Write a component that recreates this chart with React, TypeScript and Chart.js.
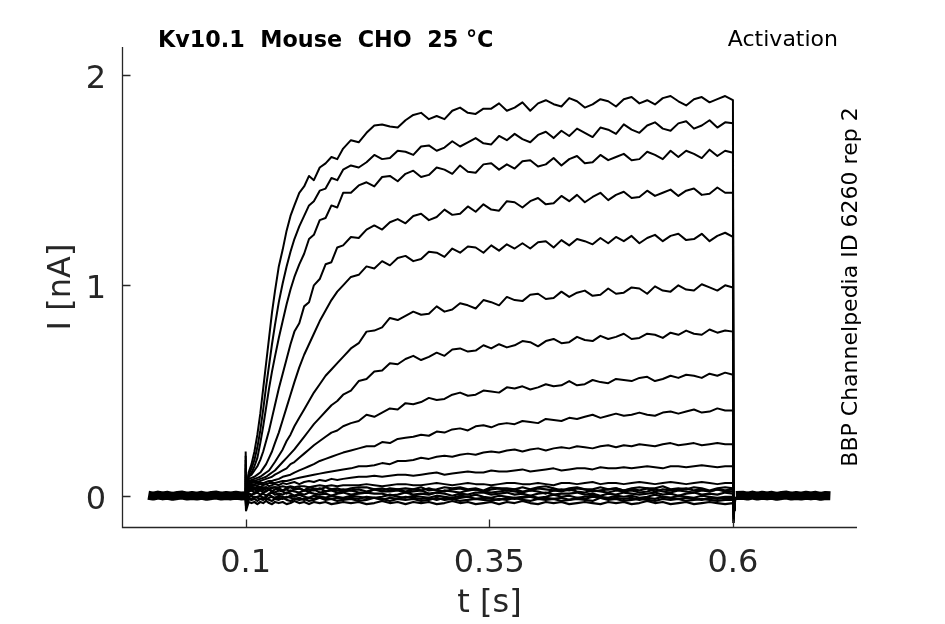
import React, { useEffect, useRef } from 'react';
import { Chart, registerables } from 'chart.js';

Chart.register(...registerables);

// axis ticks
const xTicks = [0.1, 0.35, 0.6];
const xTickLabels = ['0.1', '0.35', '0.6'];
const yTicks = [0, 1, 2];
const yTickLabels = ['0', '1', '2'];

// holding segments before / after the step (all sweeps overlap there)
const preTimes = [0, 0.005, 0.01, 0.015, 0.02, 0.025, 0.03, 0.035, 0.04, 0.045, 0.05, 0.055, 0.06, 0.065, 0.07, 0.075, 0.08, 0.085, 0.09, 0.095, 0.0998];
const preValues = [0.002, -0.002, 0.003, -0.001, 0.002, -0.003, 0.001, 0.003, -0.002, 0.001, -0.002, 0.002, -0.003, 0.001, 0.003, -0.002, 0.001, -0.001, 0.002, -0.001, 0.0];
const recoveryTimes = [0.6006, 0.6012, 0.602, 0.603];
const recoveryValues = [-0.13, -0.07, -0.03, -0.005];
const tailTimes = [0.603, 0.61, 0.615, 0.62, 0.625, 0.63, 0.635, 0.64, 0.645, 0.65, 0.655, 0.66, 0.665, 0.67, 0.675, 0.68, 0.685, 0.69, 0.695, 0.7];
const tailValues = [0.001, 0.002, -0.002, 0.003, -0.002, 0.002, -0.001, 0.002, -0.003, 0.001, 0.003, -0.002, 0.001, -0.002, 0.002, -0.001, 0.002, -0.003, 0.001, 0.0];

// sample times during the step
const pulseTimes = [
  0.1, 0.1004, 0.103, 0.106, 0.109, 0.112, 0.115, 0.118, 0.121, 0.124, 0.127, 0.13, 0.134,
  0.138, 0.142, 0.146, 0.15, 0.155, 0.16, 0.165, 0.17, 0.176, 0.182, 0.188, 0.194, 0.2,
  0.208, 0.216, 0.224, 0.232, 0.24, 0.248, 0.256,
  0.264, 0.272, 0.28, 0.288, 0.296, 0.304, 0.312,
  0.32, 0.328, 0.336, 0.344, 0.352, 0.36, 0.368,
  0.376, 0.384, 0.392, 0.4, 0.408, 0.416, 0.424,
  0.432, 0.44, 0.448, 0.456, 0.464, 0.472, 0.48,
  0.488, 0.496, 0.504, 0.512, 0.52, 0.528, 0.536,
  0.544, 0.552, 0.56, 0.568, 0.576, 0.584, 0.592,
  0.6, 0.6006,
];

// current sweeps in nA, largest first
const sweep1 = [
  0.21, -0.06, 0.11, 0.15, 0.21, 0.29, 0.39, 0.51, 0.63, 0.75, 0.87, 0.97, 1.09,
  1.17, 1.26, 1.33, 1.38, 1.44, 1.47, 1.52, 1.5, 1.56, 1.58, 1.61, 1.6, 1.65,
  1.69, 1.68, 1.725, 1.76, 1.765, 1.755, 1.75,
  1.785, 1.81, 1.82, 1.79, 1.805, 1.79, 1.83,
  1.845, 1.82, 1.815, 1.84, 1.84, 1.865, 1.83,
  1.845, 1.87, 1.83, 1.865, 1.88, 1.861, 1.85,
  1.89, 1.875, 1.845, 1.86, 1.885, 1.875, 1.85,
  1.885, 1.895, 1.865, 1.88, 1.86, 1.89, 1.9,
  1.875, 1.855, 1.885, 1.895, 1.87, 1.885, 1.9,
  1.88, -0.13,
];
const sweep2 = [
  0.19, -0.05, 0.1, 0.13, 0.17, 0.23, 0.31, 0.41, 0.52, 0.62, 0.72, 0.81, 0.92,
  1.01, 1.09, 1.16, 1.22, 1.28, 1.33, 1.38, 1.4, 1.45, 1.46, 1.51, 1.5, 1.55,
  1.57, 1.56, 1.585, 1.62, 1.6, 1.605, 1.64,
  1.635, 1.62, 1.66, 1.665, 1.64, 1.655, 1.685,
  1.66, 1.68, 1.7, 1.675, 1.67, 1.71, 1.69,
  1.72, 1.695, 1.68, 1.715, 1.73, 1.7, 1.735,
  1.71, 1.745, 1.725, 1.705, 1.75, 1.74, 1.72,
  1.765, 1.74, 1.725, 1.76, 1.775, 1.745, 1.735,
  1.77, 1.78, 1.745, 1.76, 1.785, 1.75, 1.775,
  1.77, -0.12,
];
const sweep3 = [
  0.17, -0.05, 0.095, 0.11, 0.14, 0.18, 0.25, 0.33, 0.42, 0.51, 0.59, 0.66, 0.75,
  0.83, 0.91, 0.98, 1.04, 1.1, 1.15, 1.22, 1.24, 1.31, 1.32, 1.38, 1.37, 1.44,
  1.44, 1.475, 1.49, 1.47, 1.515, 1.52, 1.495,
  1.53, 1.545, 1.515, 1.525, 1.56, 1.55, 1.53,
  1.57, 1.54, 1.535, 1.575, 1.58, 1.55, 1.575,
  1.555, 1.59, 1.595, 1.565, 1.575, 1.605, 1.57,
  1.6, 1.615, 1.58, 1.585, 1.62, 1.595, 1.61,
  1.625, 1.595, 1.6, 1.635, 1.62, 1.6, 1.64,
  1.61, 1.64, 1.625, 1.605, 1.645, 1.615, 1.64,
  1.63, -0.11,
];
const sweep4 = [
  0.15, -0.04, 0.09, 0.1, 0.12, 0.14, 0.17, 0.21, 0.26, 0.31, 0.37, 0.43, 0.51,
  0.58, 0.65, 0.72, 0.78, 0.82, 0.9, 0.92, 1.0, 1.03, 1.1, 1.11, 1.18, 1.19,
  1.23, 1.225, 1.265, 1.285, 1.265, 1.3, 1.315,
  1.295, 1.33, 1.34, 1.31, 1.325, 1.36, 1.335,
  1.34, 1.375, 1.35, 1.385, 1.36, 1.355, 1.4,
  1.395, 1.37, 1.4, 1.415, 1.385, 1.39, 1.425,
  1.4, 1.43, 1.395, 1.42, 1.44, 1.405, 1.43,
  1.445, 1.415, 1.42, 1.45, 1.425, 1.44, 1.455,
  1.425, 1.45, 1.46, 1.43, 1.435, 1.465, 1.44,
  1.44, -0.1,
];
const sweep5 = [
  0.13, -0.04, 0.08, 0.085, 0.09, 0.1, 0.11, 0.13, 0.15, 0.18, 0.21, 0.25, 0.3,
  0.36, 0.42, 0.48, 0.54, 0.61, 0.67, 0.72, 0.77, 0.83, 0.88, 0.93, 0.97, 1.0,
  1.04, 1.05, 1.09, 1.08, 1.115, 1.095, 1.13,
  1.14, 1.115, 1.125, 1.16, 1.155, 1.135, 1.175,
  1.155, 1.185, 1.18, 1.155, 1.19, 1.165, 1.195,
  1.175, 1.2, 1.175, 1.205, 1.21, 1.18, 1.215,
  1.19, 1.22, 1.21, 1.195, 1.225, 1.2, 1.23,
  1.21, 1.235, 1.2, 1.225, 1.24, 1.21, 1.235,
  1.245, 1.215, 1.22, 1.245, 1.21, 1.235, 1.25,
  1.23, -0.09,
];
const sweep6 = [
  0.12, -0.04, 0.07, 0.075, 0.08, 0.085, 0.09, 0.1, 0.11, 0.12, 0.14, 0.16, 0.19,
  0.22, 0.26, 0.29, 0.33, 0.37, 0.41, 0.45, 0.49, 0.53, 0.57, 0.6, 0.63, 0.66,
  0.7, 0.725, 0.78, 0.785, 0.8, 0.845, 0.835,
  0.855, 0.875, 0.86, 0.865, 0.9, 0.875, 0.885,
  0.915, 0.905, 0.89, 0.93, 0.92, 0.905, 0.945,
  0.93, 0.925, 0.955, 0.96, 0.935, 0.94, 0.97,
  0.945, 0.965, 0.975, 0.95, 0.955, 0.985, 0.96,
  0.965, 0.99, 0.985, 0.96, 0.995, 0.975, 0.97,
  1.0, 0.98, 0.975, 1.005, 0.99, 0.975, 1.0,
  0.99, -0.08,
];
const sweep7 = [
  0.1, -0.04, 0.065, 0.07, 0.07, 0.075, 0.08, 0.085, 0.09, 0.1, 0.11, 0.12, 0.14,
  0.16, 0.18, 0.2, 0.22, 0.25, 0.28, 0.31, 0.34, 0.37, 0.4, 0.43, 0.45, 0.48,
  0.5, 0.545, 0.555, 0.59, 0.595, 0.63, 0.625,
  0.65, 0.665, 0.645, 0.66, 0.68, 0.665, 0.695,
  0.7, 0.685, 0.69, 0.715, 0.7, 0.72, 0.705,
  0.715, 0.735, 0.73, 0.71, 0.735, 0.745, 0.725,
  0.73, 0.755, 0.74, 0.735, 0.76, 0.745, 0.755,
  0.77, 0.745, 0.75, 0.77, 0.765, 0.75, 0.775,
  0.765, 0.785, 0.77, 0.765, 0.79, 0.775, 0.785,
  0.78, -0.07,
];
const sweep8 = [
  0.09, -0.03, 0.06, 0.06, 0.065, 0.065, 0.07, 0.075, 0.08, 0.085, 0.09, 0.1, 0.11,
  0.12, 0.13, 0.15, 0.16, 0.18, 0.2, 0.22, 0.24, 0.26, 0.28, 0.3, 0.31, 0.33,
  0.345, 0.355, 0.385, 0.375, 0.395, 0.415, 0.41,
  0.44, 0.435, 0.445, 0.465, 0.455, 0.46, 0.48,
  0.49, 0.475, 0.48, 0.5, 0.495, 0.49, 0.515,
  0.51, 0.52, 0.505, 0.515, 0.53, 0.52, 0.525,
  0.545, 0.525, 0.53, 0.55, 0.54, 0.535, 0.555,
  0.55, 0.545, 0.56, 0.565, 0.545, 0.555, 0.57,
  0.56, 0.575, 0.57, 0.56, 0.58, 0.57, 0.585,
  0.575, -0.06,
];
const sweep9 = [
  0.08, -0.03, 0.055, 0.055, 0.055, 0.06, 0.06, 0.06, 0.065, 0.07, 0.07, 0.075, 0.08,
  0.09, 0.095, 0.1, 0.11, 0.12, 0.13, 0.14, 0.15, 0.165, 0.175, 0.185, 0.195, 0.205,
  0.215, 0.225, 0.235, 0.235, 0.255, 0.25, 0.27,
  0.275, 0.28, 0.29, 0.285, 0.305, 0.3, 0.315,
  0.32, 0.31, 0.33, 0.335, 0.325, 0.34, 0.345,
  0.34, 0.355, 0.35, 0.345, 0.365, 0.36, 0.355,
  0.37, 0.365, 0.375, 0.385, 0.37, 0.38, 0.39,
  0.38, 0.385, 0.395, 0.385, 0.38, 0.395, 0.4,
  0.39, 0.4, 0.41, 0.395, 0.4, 0.415, 0.405,
  0.405, -0.06,
];
const sweep10 = [
  0.07, -0.03, 0.05, 0.05, 0.05, 0.05, 0.055, 0.055, 0.055, 0.06, 0.06, 0.06, 0.065,
  0.07, 0.07, 0.075, 0.08, 0.085, 0.09, 0.095, 0.1, 0.105, 0.11, 0.115, 0.12, 0.125,
  0.13, 0.14, 0.14, 0.145, 0.155, 0.15, 0.165,
  0.165, 0.17, 0.18, 0.175, 0.185, 0.19, 0.185,
  0.195, 0.2, 0.195, 0.205, 0.21, 0.205, 0.215,
  0.22, 0.21, 0.22, 0.225, 0.215, 0.225, 0.23,
  0.225, 0.235, 0.23, 0.225, 0.235, 0.24, 0.23,
  0.24, 0.235, 0.245, 0.24, 0.235, 0.245, 0.25,
  0.24, 0.245, 0.25, 0.24, 0.245, 0.25, 0.245,
  0.245, -0.05,
];
const sweep11 = [
  0.06, -0.03, 0.045, 0.04, 0.05, 0.045, 0.04, 0.05, 0.055, 0.045, 0.05, 0.055, 0.05,
  0.06, 0.055, 0.06, 0.065, 0.055, 0.065, 0.07, 0.065, 0.075, 0.07, 0.08, 0.075, 0.08,
  0.085, 0.09, 0.09, 0.095, 0.09, 0.095, 0.1,
  0.1, 0.095, 0.1, 0.105, 0.11, 0.1, 0.105,
  0.11, 0.115, 0.11, 0.11, 0.12, 0.115, 0.115,
  0.12, 0.125, 0.115, 0.12, 0.125, 0.13, 0.12,
  0.125, 0.13, 0.13, 0.125, 0.135, 0.13, 0.13,
  0.135, 0.13, 0.135, 0.14, 0.135, 0.13, 0.14,
  0.14, 0.135, 0.14, 0.145, 0.14, 0.135, 0.14,
  0.14, -0.05,
];
const sweep12 = [
  0.05, -0.03, 0.04, 0.04, 0.035, 0.04, 0.035, 0.04, 0.04, 0.035, 0.04, 0.04, 0.04,
  0.045, 0.04, 0.045, 0.04, 0.045, 0.045, 0.04, 0.045, 0.05, 0.045, 0.05, 0.045, 0.05,
  0.05, 0.05, 0.055, 0.05, 0.045, 0.05, 0.055,
  0.055, 0.05, 0.05, 0.055, 0.06, 0.055, 0.05,
  0.055, 0.06, 0.055, 0.055, 0.05, 0.055, 0.06,
  0.06, 0.055, 0.055, 0.06, 0.055, 0.05, 0.06,
  0.06, 0.055, 0.06, 0.065, 0.055, 0.06, 0.06,
  0.055, 0.06, 0.065, 0.06, 0.055, 0.06, 0.065,
  0.06, 0.055, 0.06, 0.065, 0.06, 0.055, 0.06,
  0.06, -0.04,
];
// sub-threshold sweeps: the dense band around zero
const sweep13 = [
  0.04, -0.02, 0.035, 0.03, 0.04, 0.03, 0.035, 0.025, 0.04, 0.03, 0.035, 0.04, 0.03,
  0.025, 0.035, 0.04, 0.03, 0.035, 0.025, 0.04, 0.035, 0.03, 0.04, 0.03, 0.035, 0.025,
  0.035, 0.04, 0.04, 0.03, 0.025, 0.035, 0.03,
  0.035, 0.03, 0.04, 0.025, 0.03, 0.04, 0.035,
  0.04, 0.03, 0.035, 0.025, 0.04, 0.035, 0.035,
  0.03, 0.04, 0.03, 0.04, 0.045, 0.035, 0.025,
  0.035, 0.04, 0.03, 0.03, 0.04, 0.03, 0.035,
  0.025, 0.035, 0.04, 0.035, 0.035, 0.045, 0.03,
  0.035, 0.03, 0.04, 0.035, 0.025, 0.035, 0.04,
  0.035, -0.04,
];
const sweep14 = [
  0.035, -0.03, 0.03, 0.025, 0.03, 0.02, 0.03, 0.035, 0.025, 0.03, 0.02, 0.03, 0.035,
  0.025, 0.03, 0.02, 0.03, 0.035, 0.025, 0.03, 0.025, 0.035, 0.02, 0.03, 0.025, 0.03,
  0.025, 0.03, 0.02, 0.03, 0.035, 0.025, 0.03,
  0.02, 0.03, 0.025, 0.035, 0.025, 0.02, 0.03,
  0.035, 0.025, 0.03, 0.02, 0.03, 0.035, 0.025,
  0.03, 0.02, 0.025, 0.035, 0.03, 0.025, 0.03,
  0.025, 0.035, 0.03, 0.02, 0.025, 0.03, 0.035,
  0.025, 0.03, 0.025, 0.035, 0.02, 0.03, 0.025,
  0.03, 0.035, 0.025, 0.03, 0.02, 0.03, 0.025,
  0.03, -0.04,
];
const sweep15 = [
  0.03, -0.02, 0.02, 0.025, 0.015, 0.02, 0.025, 0.015, 0.02, 0.03, 0.02, 0.015, 0.025,
  0.02, 0.01, 0.025, 0.02, 0.015, 0.025, 0.02, 0.03, 0.015, 0.02, 0.025, 0.015, 0.02,
  0.025, 0.015, 0.015, 0.03, 0.02, 0.02, 0.025,
  0.015, 0.02, 0.025, 0.01, 0.015, 0.025, 0.02,
  0.015, 0.025, 0.03, 0.02, 0.015, 0.02, 0.025,
  0.02, 0.015, 0.025, 0.02, 0.01, 0.025, 0.02,
  0.03, 0.02, 0.015, 0.025, 0.02, 0.015, 0.025,
  0.02, 0.025, 0.015, 0.02, 0.03, 0.02, 0.015,
  0.025, 0.02, 0.015, 0.025, 0.02, 0.03, 0.02,
  0.02, -0.03,
];
const sweep16 = [
  0.02, -0.03, 0.01, 0.005, 0.01, 0.015, 0.005, 0.01, 0.0, 0.01, 0.015, 0.005, 0.01,
  0.005, 0.015, 0.01, 0.0, 0.01, 0.005, 0.015, 0.01, 0.005, 0.01, 0.0, 0.01, 0.015,
  0.005, 0.01, 0.015, 0.01, 0.01, 0.0, 0.005,
  0.015, 0.005, 0.01, 0.005, 0.015, 0.01, 0.0,
  0.01, 0.005, 0.015, 0.015, 0.005, 0.01, 0.015,
  0.005, 0.01, 0.0, 0.01, 0.015, 0.005, 0.01,
  0.01, 0.015, 0.005, 0.01, 0.0, 0.01, 0.005,
  0.015, 0.01, 0.005, 0.01, 0.015, 0.005, 0.01,
  0.0, 0.01, 0.015, 0.005, 0.01, 0.005, 0.015,
  0.01, -0.03,
];
const sweep17 = [
  0.01, -0.04, -0.005, 0.0, -0.01, -0.005, 0.0, -0.01, -0.005, 0.005, -0.005, -0.01, 0.0,
  -0.005, -0.01, 0.0, -0.005, 0.005, -0.005, -0.01, 0.0, -0.005, -0.01, 0.0, -0.005, -0.01,
  0.0, -0.005, -0.01, -0.01, -0.005, 0.005, -0.005,
  -0.01, 0.0, -0.005, -0.01, 0.0, -0.005, -0.01,
  0.0, -0.005, 0.005, -0.005, -0.01, 0.0, -0.005,
  -0.01, -0.005, 0.0, -0.01, -0.005, 0.005, -0.005,
  0.0, -0.01, -0.005, 0.0, -0.005, -0.01, 0.0,
  -0.005, 0.0, -0.01, -0.005, 0.005, -0.005, -0.01,
  0.0, -0.005, -0.01, 0.0, -0.005, -0.01, -0.005,
  -0.005, -0.04,
];
const sweep18 = [
  0.005, -0.05, -0.01, -0.015, -0.005, -0.01, -0.015, -0.01, -0.02, -0.01, -0.005, -0.015, -0.01,
  -0.015, -0.005, -0.01, -0.015, -0.01, -0.02, -0.01, -0.015, -0.005, -0.01, -0.015, -0.01, -0.015,
  -0.01, -0.015, -0.005, -0.01, -0.02, -0.01, -0.015,
  -0.005, -0.01, -0.015, -0.01, -0.02, -0.01, -0.015,
  -0.01, -0.005, -0.015, -0.01, -0.015, -0.02, -0.01,
  -0.015, -0.01, -0.005, -0.015, -0.01, -0.015, -0.01,
  -0.02, -0.01, -0.015, -0.005, -0.01, -0.015, -0.01,
  -0.015, -0.01, -0.02, -0.01, -0.015, -0.005, -0.01,
  -0.015, -0.01, -0.015, -0.02, -0.01, -0.015, -0.01,
  -0.01, -0.045,
];
const sweep19 = [
  0.0, -0.05, -0.015, -0.02, -0.015, -0.025, -0.015, -0.02, -0.01, -0.02, -0.025, -0.015, -0.02,
  -0.01, -0.02, -0.025, -0.015, -0.02, -0.015, -0.025, -0.02, -0.01, -0.02, -0.015, -0.025, -0.02,
  -0.015, -0.025, -0.02, -0.01, -0.015, -0.025, -0.015,
  -0.02, -0.015, -0.025, -0.02, -0.01, -0.02, -0.015,
  -0.025, -0.02, -0.015, -0.02, -0.025, -0.015, -0.02,
  -0.01, -0.02, -0.025, -0.015, -0.02, -0.015, -0.025,
  -0.02, -0.015, -0.02, -0.025, -0.01, -0.02, -0.015,
  -0.025, -0.02, -0.015, -0.02, -0.025, -0.015, -0.02,
  -0.015, -0.025, -0.02, -0.015, -0.02, -0.025, -0.02,
  -0.02, -0.05,
];
const sweep20 = [
  -0.01, -0.07, -0.03, -0.035, -0.03, -0.04, -0.03, -0.035, -0.025, -0.035, -0.04, -0.03, -0.035,
  -0.03, -0.04, -0.035, -0.025, -0.035, -0.03, -0.04, -0.03, -0.035, -0.03, -0.04, -0.035, -0.03,
  -0.035, -0.03, -0.04, -0.035, -0.025, -0.035, -0.03,
  -0.04, -0.03, -0.035, -0.03, -0.04, -0.035, -0.025,
  -0.035, -0.03, -0.04, -0.035, -0.03, -0.04, -0.03,
  -0.035, -0.025, -0.035, -0.04, -0.03, -0.035, -0.03,
  -0.04, -0.035, -0.03, -0.035, -0.04, -0.03, -0.035,
  -0.03, -0.04, -0.035, -0.025, -0.035, -0.03, -0.04,
  -0.035, -0.03, -0.04, -0.035, -0.03, -0.035, -0.04,
  -0.035, -0.05,
];

const sweeps = [
  sweep1, sweep2, sweep3, sweep4, sweep5, sweep6, sweep7, sweep8, sweep9, sweep10,
  sweep11, sweep12, sweep13, sweep14, sweep15, sweep16, sweep17, sweep18, sweep19, sweep20,
];

const FONT = "'DejaVu Sans'";
const AXIS_COLOR = '#262626';

const zip = (xs: number[], ys: number[]) => xs.map((x, i) => ({ x, y: ys[i] }));

const decorPlugin = {
  id: 'decor',
  afterDraw(chart: any) {
    const { ctx, chartArea, scales } = chart;
    const xs = scales.x;
    const ys = scales.y;
    const left = chartArea.left + 0.5;
    const bottom = chartArea.bottom + 0.5;

    ctx.save();
    ctx.strokeStyle = AXIS_COLOR;
    ctx.lineWidth = 1.3;
    ctx.beginPath();
    ctx.moveTo(left, chartArea.top);
    ctx.lineTo(left, bottom);
    ctx.lineTo(chartArea.right, bottom);
    xTicks.forEach((v) => {
      const px = Math.round(xs.getPixelForValue(v)) + 0.5;
      ctx.moveTo(px, bottom);
      ctx.lineTo(px, bottom - 8);
    });
    yTicks.forEach((v) => {
      const py = Math.round(ys.getPixelForValue(v)) + 0.5;
      ctx.moveTo(left, py);
      ctx.lineTo(left + 8, py);
    });
    ctx.stroke();

    // tick labels
    ctx.fillStyle = AXIS_COLOR;
    ctx.font = `32px ${FONT}`;
    ctx.textBaseline = 'alphabetic';
    ctx.textAlign = 'center';
    xTicks.forEach((v, i) => {
      ctx.fillText(xTickLabels[i], xs.getPixelForValue(v), 572);
    });
    ctx.textAlign = 'right';
    yTicks.forEach((v, i) => {
      ctx.fillText(yTickLabels[i], 106, ys.getPixelForValue(v) + 13);
    });

    // axis titles
    const midX = (chartArea.left + chartArea.right) / 2;
    const midY = (chartArea.top + chartArea.bottom) / 2;
    ctx.textAlign = 'center';
    ctx.fillText('t [s]', midX, 612);
    ctx.save();
    ctx.translate(70, midY);
    ctx.rotate(-Math.PI / 2);
    ctx.fillText('I [nA]', 0, 0);
    ctx.restore();

    // header texts
    ctx.fillStyle = '#000';
    ctx.font = `bold 22.3px ${FONT}`;
    ctx.textAlign = 'left';
    ctx.fillText('Kv10.1  Mouse  CHO  25 °C', 158, 46.5);
    ctx.font = `22px ${FONT}`;
    ctx.textAlign = 'right';
    ctx.fillText('Activation', 838, 46);

    ctx.save();
    ctx.translate(857, midY);
    ctx.rotate(-Math.PI / 2);
    ctx.textAlign = 'center';
    ctx.fillText('BBP Channelpedia ID 6260 rep 2', 0, 0);
    ctx.restore();

    ctx.restore();
  },
};

const lineStyle = {
  borderColor: '#000',
  pointRadius: 0,
  tension: 0,
  fill: false,
  borderJoinStyle: 'round' as const,
};

const App: React.FC = () => {
  const canvasRef = useRef<HTMLCanvasElement>(null);
  const chartRef = useRef<Chart | null>(null);

  useEffect(() => {
    if (!canvasRef.current) return;
    if (chartRef.current) chartRef.current.destroy();

    const datasets: any[] = [
      { ...lineStyle, data: zip(preTimes, preValues), borderWidth: 9 },
      { ...lineStyle, data: zip(tailTimes, tailValues), borderWidth: 9 },
      { ...lineStyle, data: zip(recoveryTimes, recoveryValues), borderWidth: 2.2 },
      ...sweeps.map((s, i) => ({
        ...lineStyle,
        data: zip(pulseTimes, s),
        borderWidth: i < 12 ? 2 : 2.2,
      })),
    ];

    chartRef.current = new Chart(canvasRef.current, {
      type: 'line',
      data: { datasets },
      options: {
        animation: false,
        responsive: true,
        maintainAspectRatio: false,
        layout: { padding: { left: 122, top: 47, right: 88, bottom: 97 } },
        plugins: {
          legend: { display: false },
          tooltip: { enabled: false },
        },
        scales: {
          x: { type: 'linear', display: false, min: -0.0269, max: 0.7273 },
          y: { type: 'linear', display: false, min: -0.1488, max: 2.133 },
        },
      },
      plugins: [decorPlugin],
    });

    return () => {
      if (chartRef.current) {
        chartRef.current.destroy();
        chartRef.current = null;
      }
    };
  }, []);

  return (
    <div style={{ position: 'absolute', left: 0, top: 0, width: 945, height: 624, background: '#fff' }}>
      <canvas ref={canvasRef} />
    </div>
  );
};

export default App;
